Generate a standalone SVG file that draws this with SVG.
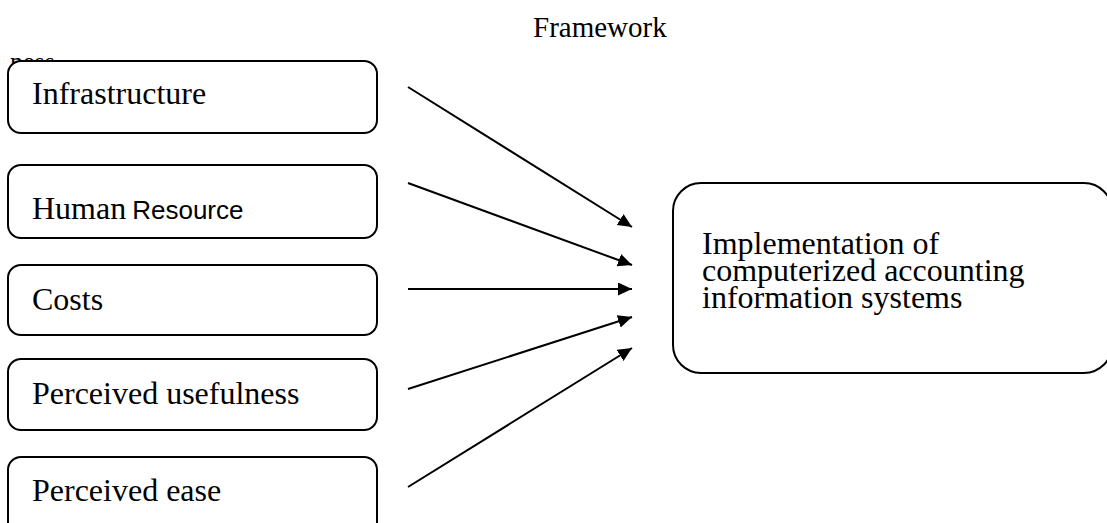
<svg xmlns="http://www.w3.org/2000/svg" width="1107" height="523" viewBox="0 0 1107 523">
  <style>
    .serif { font-family: "Liberation Serif", "Times New Roman", serif; fill: #000; }
    .sans { font-family: "Liberation Sans", Arial, sans-serif; fill: #000; }
    .box { fill: #fff; stroke: #000; stroke-width: 2; }
    .label { font-size: 32px; }
    .edge { stroke: #000; stroke-width: 2; fill: none; marker-end: url(#arrow); }
  </style>
  <defs>
    <marker id="arrow" markerUnits="userSpaceOnUse" markerWidth="16" markerHeight="14" refX="14" refY="6.5" orient="auto">
      <path d="M0,0 L14,6.5 L0,13 z" fill="#000"/>
    </marker>
  </defs>

  <rect width="1107" height="523" fill="#fff"/>

  <!-- heading -->
  <text class="serif" x="533" y="37" font-size="29">Framework</text>
  <!-- stray text partly hidden behind the first box -->
  <text class="serif" x="10" y="70" font-size="26">ness</text>

  <!-- factor nodes -->
  <g id="node-infrastructure">
    <rect class="box" x="8" y="61" width="369" height="72" rx="13"/>
    <text class="serif label" x="32" y="104">Infrastructure</text>
  </g>
  <g id="node-human-resource">
    <rect class="box" x="8" y="165" width="369" height="73" rx="13"/>
    <text class="serif label" x="32" y="219">Human<tspan class="sans" font-size="26" dx="6">Resource</tspan></text>
  </g>
  <g id="node-costs">
    <rect class="box" x="8" y="265" width="369" height="70" rx="13"/>
    <text class="serif label" x="32" y="310">Costs</text>
  </g>
  <g id="node-usefulness">
    <rect class="box" x="8" y="359" width="369" height="71" rx="13"/>
    <text class="serif label" x="32" y="404">Perceived usefulness</text>
  </g>
  <g id="node-ease">
    <rect class="box" x="8" y="457" width="369" height="80" rx="13"/>
    <text class="serif label" x="32" y="501">Perceived ease</text>
  </g>

  <!-- outcome node -->
  <g id="node-implementation">
    <rect class="box" x="673" y="183" width="439" height="190" rx="28"/>
    <text class="serif label" x="702" y="254">Implementation of</text>
    <text class="serif label" x="702" y="281">computerized accounting</text>
    <text class="serif label" x="702" y="308">information systems</text>
  </g>

  <!-- connectors -->
  <g id="connectors">
    <line class="edge" x1="408" y1="87" x2="632" y2="227"/>
    <line class="edge" x1="408" y1="183" x2="632" y2="265"/>
    <line class="edge" x1="408" y1="289" x2="632" y2="289"/>
    <line class="edge" x1="408" y1="389" x2="632" y2="317"/>
    <line class="edge" x1="408" y1="487" x2="632" y2="348"/>
  </g>
</svg>
